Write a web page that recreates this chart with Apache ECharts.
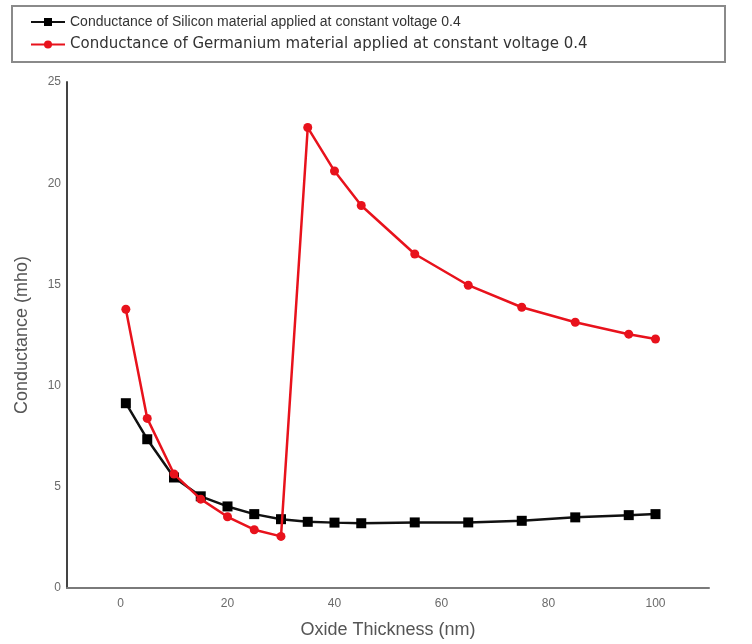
<!DOCTYPE html>
<html>
<head>
<meta charset="utf-8">
<script src="https://cdn.jsdelivr.net/npm/echarts@6/dist/echarts.min.js"></script>
<style>html,body{margin:0;padding:0;background:#fff}#c{width:752px;height:644px}</style>
</head>
<body>
<div id="c"></div>
<script>
const thickness = [1, 5, 10, 15, 20, 25, 30, 35, 40, 45, 55, 65, 75, 85, 95, 100];
const silicon = [9.13, 7.35, 5.46, 4.53, 4.03, 3.65, 3.4, 3.27, 3.23, 3.2, 3.24, 3.24, 3.32, 3.49, 3.6, 3.65];
const germanium = [13.77, 8.38, 5.63, 4.39, 3.52, 2.88, 2.55, 22.75, 20.6, 18.9, 16.5, 14.96, 13.87, 13.13, 12.54, 12.3];
const xTickLabels = [0, 20, 40, 60, 80, 100];
const yTickLabels = [0, 5, 10, 15, 20, 25];
const seriesNames = [
  'Conductance of Silicon material applied at constant voltage 0.4',
  'Conductance of Germanium material applied at constant voltage 0.4'
];

const chart = echarts.init(document.getElementById('c'));
const pairs = (xs, ys) => xs.map((x, i) => [x, ys[i]]);
const axisLabelColor = '#6a6a6a';

chart.setOption({
  animation: false,
  backgroundColor: '#fff',
  graphic: [{
    type: 'rect',
    shape: { x: 12, y: 6, width: 713, height: 56 },
    style: { fill: 'none', stroke: '#8a8a8a', lineWidth: 2 }
  }],
  legend: {
    orient: 'vertical',
    left: 30,
    top: 15,
    itemGap: 8,
    itemWidth: 34,
    itemHeight: 10,
    padding: 0,
    data: seriesNames,
    formatter: function (name) {
      return name === seriesNames[0] ? '{a|' + name + '}' : '{b|' + name + '}';
    },
    textStyle: {
      rich: {
        a: { fontFamily: 'Liberation Sans', fontSize: 14, color: '#333', height: 16 },
        b: { fontFamily: 'DejaVu Sans', fontSize: 15, color: '#333', height: 16 }
      }
    }
  },
  grid: { left: 67, right: 43, top: 82, bottom: 55, containLabel: false },
  xAxis: {
    type: 'value',
    min: -10,
    max: 110,
    interval: 10,
    name: 'Oxide Thickness (nm)',
    nameLocation: 'middle',
    nameGap: 33,
    nameTextStyle: { fontFamily: 'Liberation Sans', fontSize: 18, color: '#555' },
    axisLine: { show: true, onZero: false, lineStyle: { color: '#7a7a7a', width: 2 } },
    axisTick: { show: false },
    splitLine: { show: false },
    axisLabel: {
      fontFamily: 'Liberation Sans', fontSize: 12, color: axisLabelColor, margin: 10,
      formatter: v => xTickLabels.indexOf(v) >= 0 ? String(v) : ''
    }
  },
  yAxis: {
    type: 'value',
    min: 0,
    max: 25,
    interval: 5,
    name: 'Conductance (mho)',
    nameLocation: 'middle',
    nameGap: 36,
    nameTextStyle: { fontFamily: 'Liberation Sans', fontSize: 18, color: '#555' },
    axisLine: { show: true, onZero: false, lineStyle: { color: '#444', width: 2 } },
    axisTick: { show: false },
    splitLine: { show: false },
    axisLabel: {
      fontFamily: 'Liberation Sans', fontSize: 12, color: axisLabelColor, margin: 6,
      formatter: v => yTickLabels.indexOf(v) >= 0 ? String(v) : ''
    }
  },
  series: [
    {
      name: seriesNames[0],
      type: 'line',
      data: pairs(thickness, silicon),
      symbol: 'rect',
      symbolSize: 10,
      itemStyle: { color: '#000' },
      lineStyle: { color: '#111', width: 2.5 },
      z: 2
    },
    {
      name: seriesNames[1],
      type: 'line',
      data: pairs(thickness, germanium),
      symbol: 'circle',
      symbolSize: 9,
      itemStyle: { color: '#e8121c' },
      lineStyle: { color: '#e8121c', width: 2.5 },
      z: 3
    }
  ]
});
</script>
</body>
</html>
